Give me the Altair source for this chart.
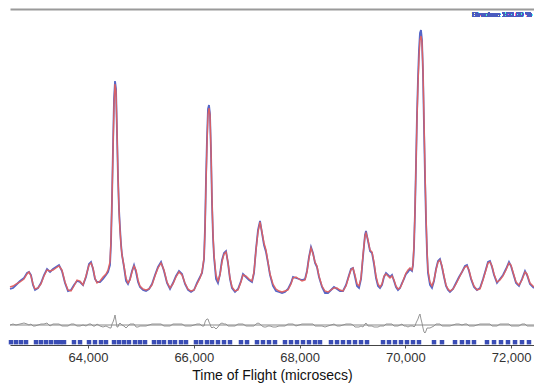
import altair as alt
import pandas as pd

# Time of flight (microsecs) of each profile point
tof = [62525, 62582, 62639, 62714, 62790, 62847, 62884, 62922, 62960, 62998,
       63055, 63111, 63168, 63225, 63282, 63338, 63395, 63452, 63508, 63565,
       63622, 63679, 63735, 63792, 63849, 63906, 63962, 64019, 64057, 64095,
       64132, 64170, 64227, 64284, 64340, 64378, 64416, 64435, 64454, 64473,
       64492, 64511, 64530, 64548, 64567, 64586, 64605, 64624, 64643, 64681,
       64719, 64756, 64794, 64832, 64870, 64908, 64946, 64983, 65040, 65097,
       65154, 65210, 65267, 65324, 65381, 65437, 65494, 65551, 65607, 65664,
       65721, 65778, 65834, 65891, 65948, 66005, 66061, 66118, 66156, 66194,
       66213, 66231, 66250, 66269, 66288, 66307, 66326, 66345, 66364, 66383,
       66421, 66458, 66496, 66534, 66572, 66610, 66647, 66685, 66723, 66780,
       66837, 66893, 66931, 66988, 67045, 67101, 67139, 67177, 67215, 67253,
       67290, 67328, 67366, 67404, 67442, 67498, 67555, 67612, 67669, 67725,
       67782, 67839, 67877, 67933, 67990, 68047, 68104, 68141, 68179, 68217,
       68255, 68293, 68330, 68368, 68425, 68482, 68538, 68595, 68652, 68709,
       68765, 68822, 68879, 68936, 68973, 69011, 69049, 69087, 69125, 69163,
       69200, 69238, 69257, 69295, 69333, 69371, 69408, 69446, 69484, 69522,
       69560, 69597, 69635, 69673, 69711, 69749, 69787, 69824, 69862, 69900,
       69938, 69976, 70013, 70051, 70089, 70127, 70146, 70165, 70184, 70203,
       70221, 70240, 70259, 70278, 70297, 70316, 70335, 70354, 70373, 70392,
       70411, 70429, 70467, 70505, 70543, 70581, 70619, 70656, 70694, 70732,
       70770, 70808, 70845, 70902, 70959, 71016, 71072, 71129, 71167, 71205,
       71243, 71299, 71356, 71413, 71470, 71526, 71564, 71602, 71640, 71678,
       71734, 71791, 71848, 71904, 71961, 71999, 72037, 72094, 72150, 72207,
       72264, 72302, 72358, 72434]

# Calculated profile
calc = [58, 59, 61, 63, 66, 71, 73, 69, 61, 56,
        57, 61, 69, 75, 74, 75, 77, 79, 75, 63,
        55, 54, 59, 65, 64, 60, 69, 80, 82, 77,
        67, 62, 64, 68, 71, 75, 83, 105, 145, 195,
        240, 261, 253, 215, 170, 135, 115, 100, 90, 79,
        67, 62, 65, 73, 79, 75, 65, 59, 56, 55,
        56, 60, 69, 77, 82, 75, 63, 57, 61, 68,
        73, 70, 62, 56, 54, 55, 61, 67, 73, 87,
        115, 160, 200, 230, 237, 230, 195, 145, 110, 90,
        70, 64, 70, 83, 91, 93, 83, 67, 58, 54,
        55, 63, 70, 69, 66, 64, 73, 95, 113, 123,
        113, 102, 95, 83, 71, 61, 56, 54, 53, 54,
        55, 61, 67, 68, 66, 64, 65, 73, 87, 97,
        91, 83, 79, 69, 59, 54, 53, 55, 57, 57,
        55, 54, 59, 69, 75, 77, 70, 61, 59, 67,
        90, 109, 112, 105, 95, 93, 83, 69, 61, 58,
        61, 69, 71, 69, 67, 69, 65, 59, 56, 57,
        61, 67, 72, 75, 77, 75, 81, 100, 135, 180,
        225, 260, 287, 305, 309, 303, 275, 225, 175, 130,
        95, 75, 63, 59, 65, 75, 83, 85, 79, 69,
        60, 56, 54, 56, 61, 67, 73, 78, 79, 75,
        67, 59, 55, 56, 65, 75, 82, 83, 79, 71,
        63, 65, 69, 75, 82, 80, 73, 63, 60, 65,
        73, 71, 62, 58]

# Observed profile
obs = [56, 57, 60, 64, 67, 72, 73, 70, 60, 55,
       57, 62, 70, 76, 73, 76, 78, 80, 74, 62,
       54, 55, 60, 64, 63, 60, 68, 81, 83, 76,
       66, 63, 63, 66, 70, 73, 80, 102, 146, 198,
       246, 264, 256, 213, 168, 136, 117, 101, 90, 78,
       64, 61, 66, 74, 80, 73, 63, 58, 55, 54,
       56, 61, 70, 78, 83, 74, 62, 56, 62, 69,
       74, 71, 61, 55, 53, 55, 62, 68, 72, 86,
       118, 165, 206, 236, 240, 231, 193, 142, 108, 88,
       66, 62, 71, 85, 92, 94, 82, 66, 57, 53,
       56, 64, 71, 68, 65, 63, 72, 96, 115, 124,
       112, 100, 93, 82, 70, 59, 54, 53, 52, 53,
       56, 62, 68, 67, 66, 65, 66, 74, 88, 98,
       92, 82, 78, 68, 58, 52, 52, 55, 58, 56,
       54, 54, 60, 70, 76, 77, 68, 59, 57, 66,
       88, 110, 114, 104, 94, 92, 81, 67, 59, 57,
       60, 68, 72, 70, 68, 70, 64, 58, 55, 57,
       62, 66, 71, 73, 76, 74, 80, 98, 134, 182,
       229, 266, 295, 312, 315, 305, 272, 218, 167, 124,
       92, 72, 60, 57, 64, 76, 84, 86, 78, 68,
       59, 55, 53, 56, 62, 68, 73, 79, 80, 74,
       66, 58, 55, 57, 66, 76, 83, 84, 78, 70,
       62, 66, 70, 76, 83, 79, 72, 62, 59, 66,
       74, 70, 61, 57]

# Difference (obs - calc) curve
diff = [0, 1, 0, 1, 2, 1, 0, 1, -1, -1,
        0, 1, 1, 2, -1, 1, 1, 1, -1, -1,
        -1, 1, 1, -1, -1, 0, -1, 1, 1, -1,
        -1, 1, -1, -2, -1, -2, -3, -3, 1, 3,
        6, 10, 4, -2, -2, 1, 2, 1, 0, -1,
        -3, -1, 1, 1, 1, -2, -2, -1, -1, -1,
        0, 1, 1, 1, 1, -1, -1, -1, 1, 1,
        1, 1, -1, -1, -1, 0, 1, 1, -1, -1,
        3, 5, 6, 6, 3, 1, -2, -3, -2, -2,
        -4, -2, 1, 2, 1, 1, -1, -1, -1, -1,
        1, 1, 1, -1, -1, -1, -1, 1, 2, 1,
        -1, -2, -2, -1, -1, -2, -2, -1, -1, -1,
        1, 1, 1, -1, 0, 1, 1, 1, 1, 1,
        1, -1, -1, -1, -1, -2, -1, 0, 1, -1,
        -1, 0, 1, 1, 1, 0, -2, -2, -2, -1,
        -2, 1, 2, -1, -1, -1, -2, -2, -2, -1,
        -1, -1, 1, 1, 1, 1, -1, -1, -1, 0,
        1, -1, -1, -2, -1, -1, -1, -2, -1, 2,
        4, 6, 9, 11, 6, 2, -3, -7, -8, -6,
        -3, -3, -3, -2, -1, 1, 1, 1, -1, -1,
        -1, -1, -1, 0, 1, 1, 0, 1, 1, -1,
        -1, -1, 0, 1, 1, 1, 1, 1, -1, -1,
        -1, 1, 1, 1, 1, -1, -1, -1, -1, 1,
        1, -1, -1, -1]

# Reflection positions (microsecs)
reflections = [62544, 62639, 62733, 62828,
               63017, 63111, 63206, 63300, 63395, 63471, 63546,
               63735, 63849,
               64019, 64132, 64246, 64340,
               64492, 64586, 64681, 64775, 64889, 64983, 65078,
               65248, 65343, 65437, 65551, 65645, 65759, 65853,
               66042, 66137, 66250, 66345, 66458, 66572, 66685,
               66893, 67007,
               67196, 67309, 67423, 67536,
               67725, 67839, 67952, 68066, 68179, 68293, 68387,
               68595, 68709, 68822, 68936, 69049, 69163, 69276,
               69579, 69692, 69805, 69919, 70032, 70146, 70259,
               70543, 70694,
               70940, 71072, 71186, 71299,
               71545, 71678, 71810, 71942, 72075, 72207, 72339]

x_ticks = [64000, 66000, 68000, 70000, 72000]
x_title = "Time of Flight (microsecs)"
note_text = "Structure   100.00 %"

assert len(tof) == len(calc) == len(obs) == len(diff)

df = pd.DataFrame({"tof": tof, "obs": obs, "calc": calc, "diff": diff})
refl_df = pd.DataFrame({"tof": reflections})

FONT = "Liberation Sans"
XMIN, XMAX = 62525, 72434
xscale = alt.Scale(domain=[XMIN, XMAX], nice=False, zero=False)
yscale = alt.Scale(domain=[0, 336], nice=False, zero=False)

bottom_axis = alt.Axis(
    orient="bottom", values=x_ticks, format=",d", grid=False,
    domainColor="#444444", domainWidth=1, tickColor="#555555", tickSize=3,
    labelFont=FONT, labelFontSize=13, labelColor="#333333", labelPadding=3,
    title=x_title, titleFont=FONT, titleFontSize=14, titleFontWeight="normal",
    titleColor="#111111", titlePadding=4,
)
top_axis = alt.Axis(
    orient="top", grid=False, labels=False, ticks=False, title="",
    domainColor="#9a9a9a", domainWidth=2,
)
left_axis = alt.Axis(
    orient="left", grid=False, labels=False, ticks=False, title="",
    domainColor="#cccccc", domainWidth=1,
)

obs_line = alt.Chart(df).mark_line(color="#5566c8", strokeWidth=1.8).encode(
    x=alt.X("tof:Q", scale=xscale, axis=bottom_axis),
    y=alt.Y("obs:Q", scale=yscale, axis=left_axis),
)
calc_line = alt.Chart(df).mark_line(color="#e06060", strokeWidth=1.4, opacity=0.95).encode(
    x=alt.X("tof:Q", scale=xscale, axis=top_axis),
    y=alt.Y("calc:Q", scale=yscale, axis=None),
)
diff_zero = alt.Chart(df).mark_rule(color="#c4c4c4", strokeWidth=1).encode(
    x=alt.XDatum(XMIN, scale=xscale, axis=None),
    x2=alt.X2Datum(XMAX),
    y=alt.YDatum(20, scale=yscale, axis=None),
)
diff_line = alt.Chart(df).transform_calculate(
    dplot="datum.diff + 20"
).mark_line(color="#8a8a8a", strokeWidth=0.9).encode(
    x=alt.X("tof:Q", scale=xscale, axis=None),
    y=alt.Y("dplot:Q", scale=yscale, axis=None),
)
refl = alt.Chart(refl_df).mark_rule(color="#3a4db5", strokeWidth=4.5).encode(
    x=alt.X("tof:Q", scale=xscale, axis=None),
    y=alt.YDatum(0.6, scale=yscale, axis=None),
    y2=alt.Y2Datum(5),
)
note = alt.Chart(df).mark_text(
    align="right", baseline="middle", fontSize=7, font=FONT, color="#4a5bbf"
).encode(
    x=alt.XDatum(72390, scale=xscale, axis=None),
    y=alt.YDatum(330, scale=yscale, axis=None),
    text=alt.value(note_text),
)

chart = alt.layer(
    obs_line, calc_line, diff_zero, diff_line, refl, note
).resolve_axis(x="independent").properties(
    width=524, height=336,
    padding={"left": 10, "top": 9, "right": 0, "bottom": 39},
    autosize=alt.AutoSizeParams(type="none"),
).configure_view(stroke=None)

chart.save("out.html", embed_options={"renderer": "svg", "actions": False})
